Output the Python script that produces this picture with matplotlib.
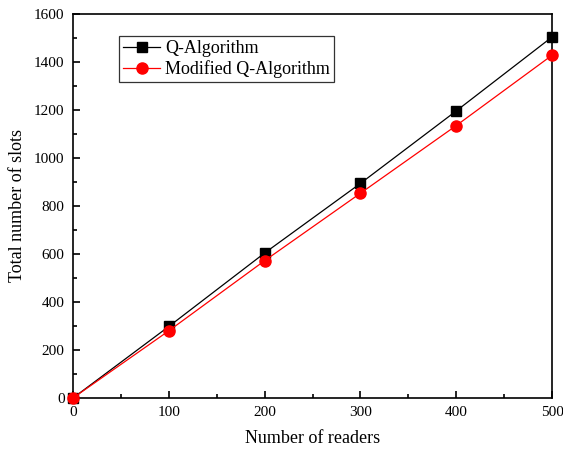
import matplotlib
matplotlib.use("Agg")
from matplotlib import pyplot as plt
from matplotlib.ticker import MultipleLocator

# data
readers = [0, 100, 200, 300, 400, 500]
q_slots = [0, 298, 604, 894, 1196, 1504]
mod_slots = [0, 280, 572, 853, 1135, 1428]

plt.rcParams['font.family'] = ['Liberation Serif', 'DejaVu Serif']

fig = plt.figure(figsize=(5.63, 4.54), dpi=100)
ax = fig.add_axes([73 / 563, 56 / 454, 479 / 563, 384 / 454])

ax.plot(readers, q_slots, color='black', lw=0.9, marker='s', ms=7, label='Q-Algorithm', clip_on=False, zorder=3)
ax.plot(readers, mod_slots, color='red', lw=0.9, marker='o', ms=8, label='Modified Q-Algorithm', clip_on=False, zorder=4)

ax.set_xlim(0, 500)
ax.set_ylim(0, 1600)
ax.xaxis.set_major_locator(MultipleLocator(100))
ax.xaxis.set_minor_locator(MultipleLocator(50))
ax.yaxis.set_major_locator(MultipleLocator(200))
ax.yaxis.set_minor_locator(MultipleLocator(100))
ax.tick_params(which='both', direction='in', labelsize=11, width=1.2)
ax.tick_params(which='major', length=5)
ax.tick_params(which='minor', length=3)
ax.tick_params(axis='x', which='major', pad=6)
ax.tick_params(axis='y', which='major', pad=6)
for s in ax.spines.values():
    s.set_linewidth(1.2)

ax.set_xlabel('Number of readers', fontsize=13, labelpad=8)
ax.set_ylabel('Total number of slots', fontsize=13, labelpad=6)

leg = ax.legend(loc='upper left', bbox_to_anchor=(0.096, 0.943), fontsize=13, frameon=True,
                fancybox=False, edgecolor='black', borderpad=0.25, handlelength=2.0,
                handletextpad=0.3, labelspacing=0.15, borderaxespad=0)
leg.get_frame().set_linewidth(0.9)

plt.savefig('out.png', dpi=100)
